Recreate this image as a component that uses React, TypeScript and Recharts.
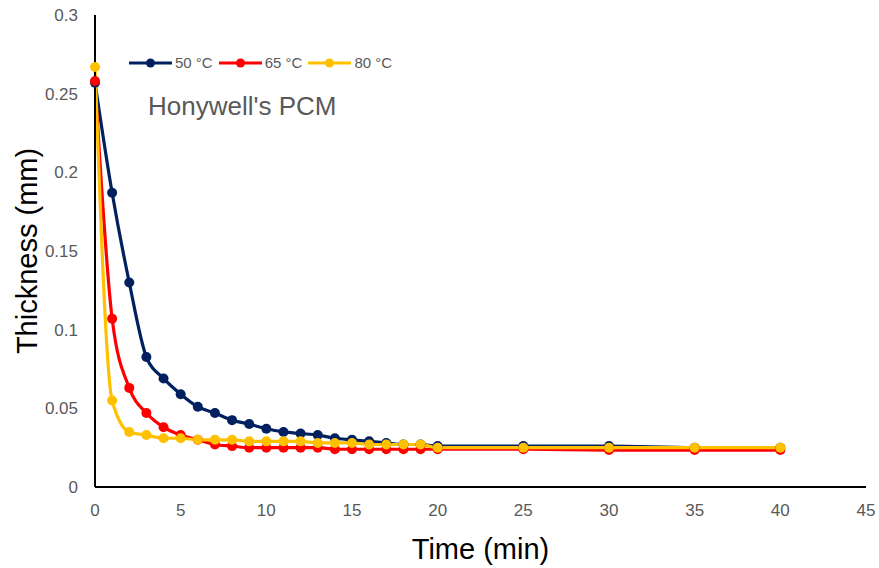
import { LineChart, Line, XAxis, YAxis, Legend, Label } from "recharts";

// sampling times (min)
const TIME = [0, 1, 2, 3, 4, 5, 6, 7, 8, 9, 10, 11, 12, 13, 14, 15, 16, 17, 18, 19, 20, 25, 30, 35, 40];

// thickness (mm)
const T50 = [0.257, 0.187, 0.13, 0.0826, 0.069, 0.059, 0.051, 0.047, 0.0425, 0.04, 0.037, 0.035, 0.034, 0.033, 0.031, 0.03, 0.029, 0.028, 0.027, 0.027, 0.026, 0.026, 0.026, 0.025, 0.025];
const T65 = [0.258, 0.107, 0.063, 0.047, 0.038, 0.033, 0.03, 0.027, 0.026, 0.025, 0.025, 0.025, 0.025, 0.025, 0.024, 0.024, 0.024, 0.024, 0.024, 0.024, 0.024, 0.024, 0.0235, 0.0235, 0.0235];
const T80 = [0.267, 0.055, 0.035, 0.033, 0.031, 0.031, 0.03, 0.03, 0.03, 0.029, 0.029, 0.029, 0.029, 0.028, 0.028, 0.028, 0.027, 0.027, 0.027, 0.027, 0.025, 0.025, 0.025, 0.025, 0.025];

const SERIES_NAMES = ["50 °C", "65 °C", "80 °C"];
const SERIES_COLORS = ["#002060", "#ff0000", "#ffc000"];

const X_TICKS = [0, 5, 10, 15, 20, 25, 30, 35, 40, 45];
const Y_TICKS = [0, 0.05, 0.1, 0.15, 0.2, 0.25, 0.3];

const FONT = '"Liberation Sans", Arial, sans-serif';
const GRAY = "#595959";

const rows = TIME.map((t, i) => ({ t, s50: T50[i], s65: T65[i], s80: T80[i] }));
const keys = ["s50", "s65", "s80"];

function LegendRow(props: any) {
  const { payload } = props;
  return (
    <div style={{ display: "flex", alignItems: "center", fontFamily: FONT, fontSize: 15, color: GRAY }}>
      {(payload || []).map((p: any) => (
        <div key={p.value} style={{ display: "flex", alignItems: "center", marginRight: 6 }}>
          <svg width={43} height={12}>
            <line x1={0} y1={6} x2={43} y2={6} stroke={p.color} strokeWidth={3} />
            <circle cx={21.5} cy={6} r={4.5} fill={p.color} />
          </svg>
          <span style={{ marginLeft: 3 }}>{p.value}</span>
        </div>
      ))}
    </div>
  );
}

export default function App() {
  return (
    <div style={{ position: "absolute", left: 0, top: 0, width: 879, height: 568, background: "#fff" }}>
      <LineChart width={879} height={568} data={rows} margin={{ top: 15, right: 13, left: 0, bottom: 0 }}>
        <XAxis
          type="number"
          dataKey="t"
          domain={[0, 45]}
          ticks={X_TICKS}
          height={81}
          tickSize={0}
          tickMargin={17}
          axisLine={{ stroke: "#000", strokeWidth: 2 }}
          tick={{ fill: GRAY, fontSize: 17, fontFamily: FONT }}
        >
          <Label value="Time (min)" position="insideBottom" offset={9} style={{ fill: "#000", fontSize: 29, fontFamily: FONT }} />
        </XAxis>
        <YAxis
          type="number"
          domain={[0, 0.3]}
          ticks={Y_TICKS}
          width={95}
          tickSize={0}
          tickMargin={17}
          axisLine={{ stroke: "#000", strokeWidth: 2 }}
          tick={{ fill: GRAY, fontSize: 17, fontFamily: FONT }}
        >
          <Label
            value="Thickness (mm)"
            angle={-90}
            position="insideLeft"
            offset={27}
            style={{ fill: "#000", fontSize: 29, fontFamily: FONT, textAnchor: "middle" }}
          />
        </YAxis>
        <Legend
          layout="vertical"
          align="center"
          verticalAlign="middle"
          content={LegendRow}
          wrapperStyle={{ left: 129, top: 54, width: "auto" }}
        />
        {keys.map((k, i) => (
          <Line
            key={k}
            type="monotone"
            dataKey={k}
            name={SERIES_NAMES[i]}
            stroke={SERIES_COLORS[i]}
            strokeWidth={3.2}
            dot={{ r: 5, fill: SERIES_COLORS[i], stroke: SERIES_COLORS[i], strokeWidth: 0 }}
            activeDot={false}
            isAnimationActive={false}
          />
        ))}
      </LineChart>
      <div
        style={{
          position: "absolute",
          left: 148,
          top: 91,
          fontFamily: FONT,
          fontSize: 26,
          color: GRAY,
          whiteSpace: "nowrap",
        }}
      >
        Honywell's PCM
      </div>
    </div>
  );
}
